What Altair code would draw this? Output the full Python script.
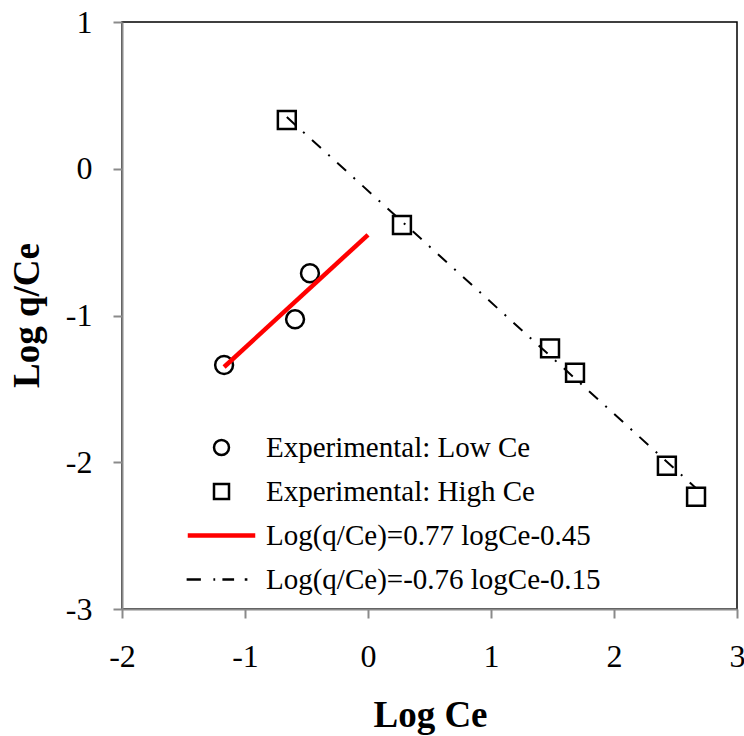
import altair as alt
import pandas as pd

# Experimental points
low_x = [-1.17, -0.593, -0.472]
low_y = [-1.337, -1.026, -0.712]
high_x = [-0.66, 0.276, 1.48, 1.683, 2.43, 2.667]
high_y = [0.332, -0.383, -1.224, -1.390, -2.024, -2.235]

# Fitted line end points
fit_low_x = [-1.17, 0.0]
fit_low_y = [-1.351, -0.45]
fit_high_x = [-0.66, 2.667]
fit_high_y = [0.352, -2.177]

series_names = [
    "Experimental: Low Ce",
    "Experimental: High Ce",
    "Log(q/Ce)=0.77 logCe-0.45",
    "Log(q/Ce)=-0.76 logCe-0.15",
]
x_ticks = [-2, -1, 0, 1, 2, 3]
y_ticks = [-3, -2, -1, 0, 1]

pts = pd.DataFrame({
    "x": low_x + high_x,
    "y": low_y + high_y,
    "series": [series_names[0]] * len(low_x) + [series_names[1]] * len(high_x),
})
fit_low = pd.DataFrame({"x": fit_low_x, "y": fit_low_y})
fit_high = pd.DataFrame({"x": fit_high_x, "y": fit_high_y})

red_path = "M-4.5,-0.12H4.5M-4.5,0.12H4.5"
dash_path = "M-4.65,0H-2.75M-1.08,0H-0.84M0.12,0H1.68M3.1,0H3.45"

xs = alt.Scale(domain=[-2, 3], nice=False, zero=False)
ys = alt.Scale(domain=[-3, 1], nice=False, zero=False)

x_axis = alt.Axis(values=x_ticks, labelExpr="'' + datum.value", title="Log Ce", labelPadding=23,
                  labelFlush=False,
                  titleX=308, titleY=106, titleBaseline="middle", titleAlign="center")
y_axis = alt.Axis(values=y_ticks, labelExpr="'' + datum.value", title="Log q/Ce", labelPadding=21,
                  labelFlush=False,
                  titleX=-95, titleY=293, titleBaseline="middle", titleAlign="center",
                  titleAngle=270)

leg = alt.Legend(title=None, orient="none", legendX=85, legendY=411)

points = alt.Chart(pts).mark_point(filled=False, size=320, strokeWidth=2.5, opacity=1).encode(
    x=alt.X("x:Q", scale=xs, axis=x_axis),
    y=alt.Y("y:Q", scale=ys, axis=y_axis),
    shape=alt.Shape("series:N", scale=alt.Scale(domain=series_names,
                    range=["circle", "square", red_path, dash_path]), legend=leg),
    color=alt.Color("series:N", scale=alt.Scale(domain=series_names,
                    range=["black", "black", "red", "black"]), legend=leg),
)

red_line = alt.Chart(fit_low).mark_line(color="red", strokeWidth=4.5).encode(
    x=alt.X("x:Q", scale=xs), y=alt.Y("y:Q", scale=ys))
black_line = alt.Chart(fit_high).mark_line(color="black", strokeWidth=2,
                                           strokeDash=[12, 10, 2, 10]).encode(
    x=alt.X("x:Q", scale=xs), y=alt.Y("y:Q", scale=ys))

chart = alt.layer(points, red_line, black_line).properties(
    width=615, height=587,
    autosize=alt.AutoSizeParams(type="none"),
    padding={"left": 122, "top": 22, "right": 7, "bottom": 127},
    background="white",
).configure_view(
    stroke="black", strokeWidth=1.5
).configure_axis(
    grid=False,
    domainColor="#8a8a8a", domainWidth=2,
    tickColor="#8a8a8a", tickWidth=2, tickSize=9,
    labelFont="Liberation Serif", labelFontSize=32, labelColor="black",
    titleFont="Liberation Serif", titleFontSize=37, titleFontWeight="bold", titleColor="black",
).configure_legend(
    labelFont="Liberation Serif", labelFontSize=29, labelColor="black",
    labelOffset=30, rowPadding=14, symbolStrokeWidth=2.5, symbolSize=225, padding=0,
    labelLimit=500,
)

chart.save("out.html", embed_options={"renderer": "svg", "actions": False})
